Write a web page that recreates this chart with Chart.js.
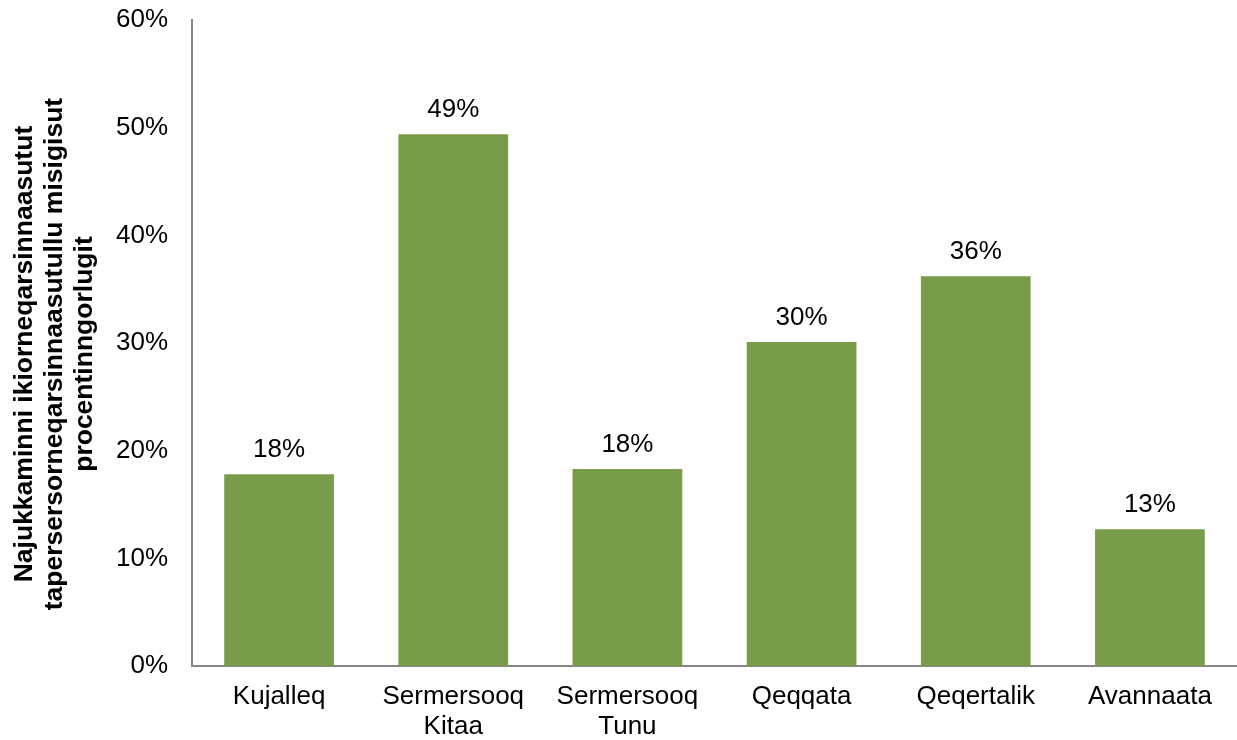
<!DOCTYPE html>
<html>
<head>
<meta charset="utf-8">
<script src="https://cdn.jsdelivr.net/npm/chart.js@4"></script>
<style>
  html, body { margin: 0; padding: 0; background: #ffffff; }
  #wrap { width: 1237px; height: 740px; position: relative; }
</style>
</head>
<body>
<div id="wrap"><canvas id="c"></canvas></div>
<script>
const categories = [
  'Kujalleq',
  ['Sermersooq', 'Kitaa'],
  ['Sermersooq', 'Tunu'],
  'Qeqqata',
  'Qeqertalik',
  'Avannaata'
];
const values = [17.8, 49.4, 18.3, 30.1, 36.2, 12.7];
const yTickValues = [0, 10, 20, 30, 40, 50, 60];
const yTitle = [
  'Najukkaminni ikiorneqarsinnaasutut   ',
  'tapersersorneqarsinnaasutullu misigisut   ',
  'procentinngorlugit   '
];

const FONT = "'Liberation Sans', Arial, sans-serif";

const dataLabels = {
  id: 'dataLabels',
  afterDatasetsDraw(chart) {
    const ctx = chart.ctx;
    const meta = chart.getDatasetMeta(0);
    ctx.save();
    ctx.font = '26px ' + FONT;
    ctx.fillStyle = '#000000';
    ctx.textAlign = 'center';
    ctx.textBaseline = 'alphabetic';
    meta.data.forEach((bar, i) => {
      ctx.fillText(Math.round(values[i]) + '%', bar.x, bar.y - 17);
    });
    ctx.restore();
  }
};

new Chart(document.getElementById('c'), {
  type: 'bar',
  data: {
    labels: categories,
    datasets: [{
      data: values,
      backgroundColor: '#789C4A',
      borderWidth: 0,
      barPercentage: 0.63,
      categoryPercentage: 1.0
    }]
  },
  plugins: [dataLabels],
  options: {
    responsive: true,
    maintainAspectRatio: false,
    animation: false,
    layout: { padding: { top: 20, right: 0, bottom: 0, left: 0 } },
    plugins: {
      legend: { display: false },
      tooltip: { enabled: false }
    },
    scales: {
      x: {
        grid: { display: false, drawTicks: false },
        border: { display: true, color: '#868686', width: 2 },
        ticks: {
          color: '#000000',
          font: { family: FONT, size: 26, lineHeight: 1.15 },
          padding: 16,
          maxRotation: 0,
          autoSkip: false
        },
        afterFit(scale) {
          scale.height = 74;
          scale.paddingLeft = 0; scale.paddingRight = 0;
        }
      },
      y: {
        min: 0,
        max: 60,
        afterBuildTicks(scale) { scale.ticks = yTickValues.map(v => ({ value: v })); },
        grid: { display: false, drawTicks: false },
        border: { display: true, color: '#868686', width: 2 },
        ticks: {
          color: '#000000',
          font: { family: FONT, size: 26 },
          padding: 24,
          callback: v => v + '%'
        },
        title: {
          display: true,
          text: yTitle,
          color: '#000000',
          font: { family: FONT, size: 26.5, weight: 'bold', lineHeight: 1.13 },
          padding: { top: 10, bottom: 0 }
        },
        afterFit(scale) {
          scale.width = 192;
          scale.paddingTop = 0; scale.paddingBottom = 0;
        }
      }
    }
  }
});
</script>
</body>
</html>
